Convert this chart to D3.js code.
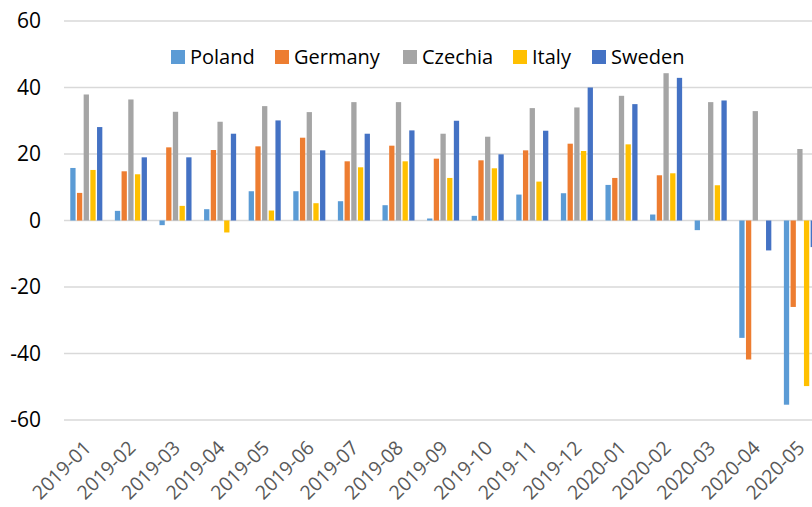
<!DOCTYPE html>
<html>
<head>
<meta charset="utf-8">
<script src="https://cdn.jsdelivr.net/npm/d3@7"></script>
<style>
  body { margin: 0; background: #fff; }
  svg { display: block; font-family: "Open Sans", sans-serif; }
</style>
</head>
<body>
<div id="chart"></div>
<script>
// monthly change by country
const months = ['2019-01','2019-02','2019-03','2019-04','2019-05','2019-06','2019-07','2019-08','2019-09',
                '2019-10','2019-11','2019-12','2020-01','2020-02','2020-03','2020-04','2020-05']
const countries = ['Poland','Germany','Czechia','Italy','Sweden']
const colors = ['#5B9BD5','#ED7D31','#A5A5A5','#FFC000','#4472C4']

const poland  = [15.8, 2.9, -1.4, 3.4, 8.8, 8.8, 5.8, 4.6, 0.6, 1.4, 7.8, 8.2, 10.7, 1.8, -2.9, -35.3, -55.4]
const germany = [8.3, 14.8, 22.0, 21.2, 22.3, 24.9, 17.8, 22.5, 18.6, 18.1, 21.1, 23.1, 12.8, 13.6, 0, -41.8, -26.0]
const czechia = [37.9, 36.4, 32.7, 29.7, 34.4, 32.6, 35.6, 35.6, 26.1, 25.2, 33.8, 34.0, 37.5, 44.3, 35.6, 32.9, 21.5]
const italy   = [15.2, 13.9, 4.4, -3.6, 3.0, 5.2, 16.0, 17.8, 12.8, 15.7, 11.7, 20.9, 22.9, 14.2, 10.6, 0, -49.8]
const sweden  = [28.1, 19.0, 19.0, 26.1, 30.1, 21.1, 26.1, 27.1, 30.0, 19.9, 27.0, 40.0, 35.0, 42.9, 36.1, -9.0, -8.0]
const yTicks = [-60, -40, -20, 0, 20, 40, 60]

const series = [poland, germany, czechia, italy, sweden]
const width = 812
const height = 507

const svg = d3.select('#chart').append('svg')
    .attr('width', width)
    .attr('height', height)

const step = 44.6
let x0 = d3.scaleBand()
    .domain(months)
    .range([64, 64 + step * months.length])
    .paddingInner(0.25)
    .paddingOuter(0.125)

let x1 = d3.scaleBand()
    .domain(countries)
    .range([0, x0.bandwidth()])

let y = d3.scaleLinear()
    .domain([-60, 60])
    .range([420, 21])

// gridlines
svg.append('g')
    .selectAll('line')
    .data(yTicks)
    .join('line')
    .attr('x1', 64)
    .attr('x2', width)
    .attr('y1', d => y(d))
    .attr('y2', d => y(d))
    .attr('stroke', '#d9d9d9')
    .attr('stroke-width', 1.5)

// y labels
svg.append('g')
    .selectAll('text')
    .data(yTicks)
    .join('text')
    .attr('x', 41)
    .attr('y', d => y(d))
    .attr('dy', '0.35em')
    .attr('text-anchor', 'end')
    .attr('font-size', 21)
    .attr('fill', '#000')
    .text(d => d)

// bars
const groups = svg.append('g')
    .selectAll('g')
    .data(months)
    .join('g')
    .attr('transform', m => `translate(${x0(m)},0)`)

groups.selectAll('rect')
    .data((m, i) => countries.map((c, j) => ({ c: c, j: j, v: series[j][i] })))
    .join('rect')
    .attr('x', d => x1(d.c) + 0.7)
    .attr('width', x1.bandwidth() - 1.4)
    .attr('y', d => y(Math.max(0, d.v)))
    .attr('height', d => Math.abs(y(d.v) - y(0)))
    .attr('fill', d => colors[d.j])

// x labels, rotated (they run off the bottom edge, as in the original)
svg.append('g')
    .selectAll('text')
    .data(months)
    .join('text')
    .attr('transform', m => `translate(${x0(m) + x0.bandwidth() / 2 + 6},449) rotate(-45)`)
    .attr('text-anchor', 'end')
    .attr('font-size', 19.5)
    .attr('fill', '#595959')
    .text(m => m)

// legend
const legendX = [171, 275, 403, 513, 592]
const legend = svg.append('g')
    .selectAll('g')
    .data(countries)
    .join('g')
    .attr('transform', (c, i) => `translate(${legendX[i]},50)`)

legend.append('rect')
    .attr('width', 14)
    .attr('height', 14)
    .attr('fill', (c, i) => colors[i])

legend.append('text')
    .attr('x', 19)
    .attr('y', 14)
    .attr('font-size', 20)
    .attr('fill', '#000')
    .text(c => c)
</script>
</body>
</html>
